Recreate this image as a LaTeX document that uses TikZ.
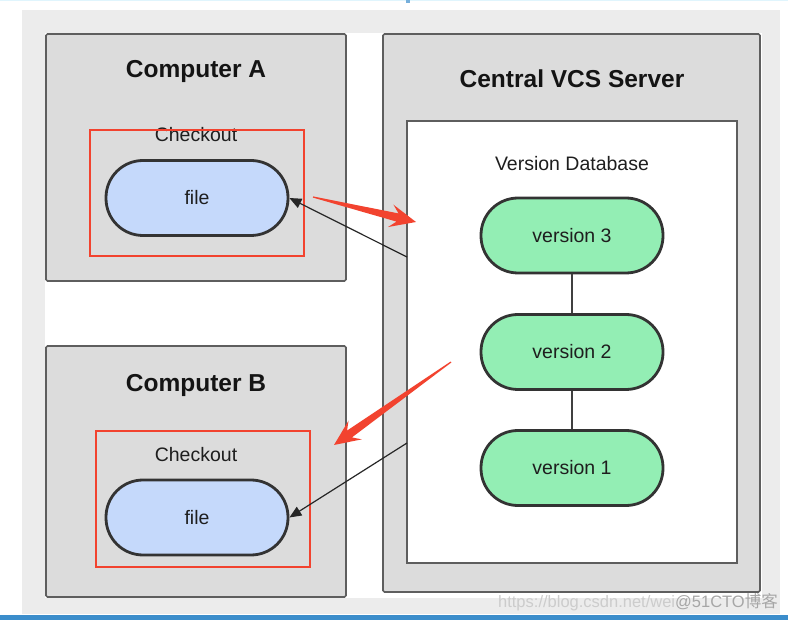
\documentclass[tikz,border=0pt]{standalone}
\usepackage{fontspec}
\setmainfont{Liberation Sans}
\newfontfamily\cjkfont{Noto Sans CJK SC}
\usetikzlibrary{arrows.meta,calc}
\definecolor{panelgray}{HTML}{ECECEC}
\definecolor{boxgray}{HTML}{DCDCDC}
\definecolor{boxline}{HTML}{5E5E5E}
\definecolor{pillline}{HTML}{333333}
\definecolor{fileblue}{HTML}{C5D9FB}
\definecolor{vergreen}{HTML}{93EEB4}
\definecolor{markred}{HTML}{F2432F}
\definecolor{barblue}{HTML}{3B8DCB}
\definecolor{txt}{HTML}{1E1E1E}
\tikzset{
  bigbox/.style={draw=boxline, line width=1.6pt, fill=boxgray, rounded corners=1.5pt, inner sep=0pt},
  dbbox/.style={draw=boxline, line width=1.4pt, fill=white, inner sep=0pt},
  title/.style={font=\fontsize{24.5}{28}\selectfont\bfseries, text=black!92},
  label/.style={font=\fontsize{19.5}{23}\selectfont, text=txt},
  pill/.style={draw=pillline, line width=2.8pt, rounded corners=37pt, minimum width=182pt, minimum height=75pt, inner sep=0pt, font=\fontsize{19.5}{23}\selectfont, text=txt},
  filepill/.style={pill, fill=fileblue},
  verpill/.style={pill, fill=vergreen},
  redframe/.style={draw=markred, line width=2pt},
  link/.style={draw=black!85, line width=1.2pt},
  pull/.style={link, -{Triangle[length=12pt,width=10pt]}},
  vlink/.style={draw=black!75, line width=1.6pt},
}
\newcommand{\markarrow}[2]{%
  \coordinate (hbase) at ($(#2)!19pt!(#1)$);
  \coordinate (hbarb) at ($(#2)!26pt!(#1)$);
  \fill[markred] ($(#1)!0.6pt!90:(#2)$) -- ($(hbase)!4.2pt!90:(#2)$) -- ($(hbarb)!11.5pt!90:(#2)$) -- (#2)
     -- ($(hbarb)!11.5pt!-90:(#2)$) -- ($(hbase)!4.2pt!-90:(#2)$) -- ($(#1)!0.6pt!-90:(#2)$) -- cycle;}
\begin{document}
\begin{tikzpicture}[x=1pt,y=-1pt]
\useasboundingbox (0,0) rectangle (788,620);
\fill[white] (0,0) rectangle (788,620);
% frame of the screenshot
\fill[panelgray] (22,10) rectangle (780,614);
\fill[white] (45,33) rectangle (762,598);
\fill[barblue] (0,614.5) rectangle (788,620);
\fill[cyan!12] (0,0) rectangle (788,1.5);
\fill[barblue!70] (406,0) rectangle (410,3);
% big boxes
\node[bigbox, minimum width=300pt, minimum height=247pt] (compA) at (196,157.5) {};
\node[bigbox, minimum width=300pt, minimum height=251pt] (compB) at (196,471.5) {};
\node[bigbox, minimum width=377pt, minimum height=558pt] (server) at (571.5,313) {};
\node[dbbox, minimum width=330pt, minimum height=442pt] (db) at (572,342) {};
% titles
\node[title] (tA) at (196,71) {Computer A};
\node[title] (tB) at (196,385) {Computer B};
\node[title] (tS) at (572,79) {Central VCS Server};
\node[label] (tDB) at (572,164) {Version Database};
% checkouts
\node[label] (coA) at (196,135) {Checkout};
\node[label] (coB) at (196,455) {Checkout};
\node[filepill] (fileA) at (197,198) {file};
\node[filepill] (fileB) at (197,517.5) {file};
\draw[redframe] (90,130.5) rectangle (304,256);
\draw[redframe] (95.5,431.5) rectangle (310,567);
% versions
\node[verpill] (v3) at (572,235.5) {version 3};
\node[verpill] (v2) at (572,352) {version 2};
\node[verpill] (v1) at (572,468) {version 1};
\draw[vlink] (v3) -- (v2);
\draw[vlink] (v2) -- (v1);
% checkout connectors
\coordinate (srcA) at (407,257);
\coordinate (srcB) at (407,443);
\draw[pull] (srcA) -- (fileA.east);
\draw[pull] (srcB) -- (fileB.east);
% red annotation arrows
\coordinate (raT) at (313,197);
\coordinate (raH) at (416,222);
\coordinate (rbT) at (451,362);
\coordinate (rbH) at (334,445);
\markarrow{raT}{raH}
\markarrow{rbT}{rbH}
% watermark
\node[anchor=east, inner sep=0pt, font=\fontsize{16.5}{18}\selectfont, text=black!20] (wm) at (778,602)
  {https://blog.csdn.net/wei\textcolor{black!35}{@51CTO{\cjkfont 博客}}};
\end{tikzpicture}
\end{document}
